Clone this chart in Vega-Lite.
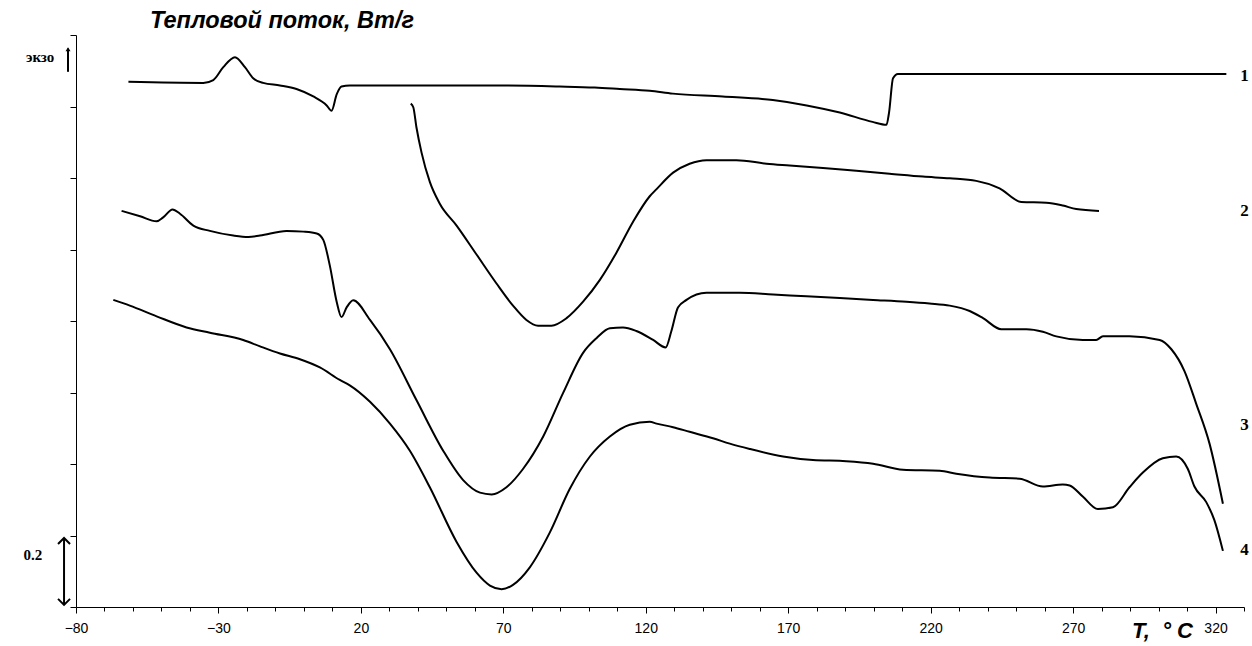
{
  "$schema": "https://vega.github.io/schema/vega-lite/v6.json",
  "width": 1168,
  "height": 572,
  "autosize": {"type": "none"},
  "padding": {"left": 76, "top": 35, "right": 8, "bottom": 39},
  "background": "white",
  "config": {"view": {"stroke": null}, "axis": {"labelOverlap": false}},
  "title": {"text": "Тепловой поток, Вт/г", "anchor": "start", "frame": "group", "dx": 74, "offset": 2, "font": "Liberation Sans", "fontSize": 23.5, "fontStyle": "italic", "fontWeight": "bold", "color": "#000"},
  "datasets": {
    "curves": [
      {"curve":"1","T":-61.6,"v":1.469},{"curve":"1","T":-35.3,"v":1.466},{"curve":"1","T":-31.8,"v":1.474},{"curve":"1","T":-28.3,"v":1.510},{"curve":"1","T":-24.2,"v":1.538},{"curve":"1","T":-20.7,"v":1.510},{"curve":"1","T":-17.8,"v":1.479},{"curve":"1","T":-14.3,"v":1.466},{"curve":"1","T":-8.4,"v":1.459},{"curve":"1","T":-2.6,"v":1.449},{"curve":"1","T":3.3,"v":1.428},{"curve":"1","T":8.0,"v":1.403},{"curve":"1","T":9.7,"v":1.388},{"curve":"1","T":11.5,"v":1.434},{"curve":"1","T":13.2,"v":1.456},{"curve":"1","T":16.1,"v":1.459},{"curve":"1","T":68.8,"v":1.459},{"curve":"1","T":89.8,"v":1.456},{"curve":"1","T":102.1,"v":1.453},{"curve":"1","T":110.9,"v":1.449},{"curve":"1","T":121.4,"v":1.444},{"curve":"1","T":129.5,"v":1.436},{"curve":"1","T":147,"v":1.428},{"curve":"1","T":164.6,"v":1.418},{"curve":"1","T":176.5,"v":1.403},{"curve":"1","T":188.1,"v":1.383},{"curve":"1","T":199.6,"v":1.357},{"curve":"1","T":204.5,"v":1.349},{"curve":"1","T":205.4,"v":1.383},{"curve":"1","T":206.8,"v":1.479},{"curve":"1","T":208.5,"v":1.491},{"curve":"1","T":323.8,"v":1.491},
      {"curve":"2","T":37.5,"v":1.408},{"curve":"2","T":38.4,"v":1.398},{"curve":"2","T":39.5,"v":1.342},{"curve":"2","T":41.3,"v":1.271},{"curve":"2","T":44.2,"v":1.189},{"curve":"2","T":47.7,"v":1.128},{"curve":"2","T":53.6,"v":1.067},{"curve":"2","T":60.6,"v":0.986},{"curve":"2","T":67.6,"v":0.905},{"curve":"2","T":73.4,"v":0.843},{"curve":"2","T":78.1,"v":0.803},{"curve":"2","T":82.2,"v":0.787},{"curve":"2","T":86.9,"v":0.787},{"curve":"2","T":92.2,"v":0.808},{"curve":"2","T":98.0,"v":0.854},{"curve":"2","T":103.9,"v":0.915},{"curve":"2","T":109.7,"v":0.991},{"curve":"2","T":115.5,"v":1.077},{"curve":"2","T":121.4,"v":1.149},{"curve":"2","T":123.8,"v":1.169},{"curve":"2","T":129.6,"v":1.215},{"curve":"2","T":135.4,"v":1.240},{"curve":"2","T":141.3,"v":1.250},{"curve":"2","T":151.8,"v":1.250},{"curve":"2","T":162.4,"v":1.240},{"curve":"2","T":170.5,"v":1.235},{"curve":"2","T":182.2,"v":1.228},{"curve":"2","T":193.9,"v":1.220},{"curve":"2","T":205.6,"v":1.212},{"curve":"2","T":217.3,"v":1.204},{"curve":"2","T":226.7,"v":1.199},{"curve":"2","T":236,"v":1.192},{"curve":"2","T":244.2,"v":1.171},{"curve":"2","T":251.8,"v":1.133},{"curve":"2","T":260.6,"v":1.131},{"curve":"2","T":266.4,"v":1.123},{"curve":"2","T":271.1,"v":1.113},{"curve":"2","T":279.1,"v":1.108},
      {"curve":"3","T":-64.0,"v":1.108},{"curve":"3","T":-57.5,"v":1.093},{"curve":"3","T":-51.7,"v":1.079},{"curve":"3","T":-49.4,"v":1.090},{"curve":"3","T":-46.1,"v":1.112},{"curve":"3","T":-43.5,"v":1.100},{"curve":"3","T":-38.8,"v":1.067},{"curve":"3","T":-33.0,"v":1.052},{"curve":"3","T":-24.8,"v":1.039},{"curve":"3","T":-19.5,"v":1.035},{"curve":"3","T":-15.4,"v":1.039},{"curve":"3","T":-6.1,"v":1.052},{"curve":"3","T":-0.2,"v":1.050},{"curve":"3","T":4.5,"v":1.045},{"curve":"3","T":6.8,"v":1.027},{"curve":"3","T":9.1,"v":0.955},{"curve":"3","T":11.5,"v":0.854},{"curve":"3","T":13.2,"v":0.811},{"curve":"3","T":15.0,"v":0.838},{"curve":"3","T":17.3,"v":0.858},{"curve":"3","T":23.2,"v":0.803},{"curve":"3","T":30.2,"v":0.721},{"curve":"3","T":39.5,"v":0.579},{"curve":"3","T":48.9,"v":0.437},{"curve":"3","T":55.9,"v":0.355},{"curve":"3","T":61.8,"v":0.320},{"curve":"3","T":65.9,"v":0.315},{"curve":"3","T":71.1,"v":0.335},{"curve":"3","T":76.9,"v":0.386},{"curve":"3","T":84.0,"v":0.477},{"curve":"3","T":91.0,"v":0.599},{"curve":"3","T":98.0,"v":0.711},{"curve":"3","T":102.7,"v":0.752},{"curve":"3","T":107.4,"v":0.780},{"curve":"3","T":112.0,"v":0.782},{"curve":"3","T":116.7,"v":0.772},{"curve":"3","T":122.6,"v":0.747},{"curve":"3","T":127.0,"v":0.726},{"curve":"3","T":129.0,"v":0.772},{"curve":"3","T":131.3,"v":0.838},{"curve":"3","T":134.3,"v":0.859},{"curve":"3","T":141.3,"v":0.879},{"curve":"3","T":153.0,"v":0.879},{"curve":"3","T":164.7,"v":0.874},{"curve":"3","T":176.4,"v":0.869},{"curve":"3","T":188.1,"v":0.864},{"curve":"3","T":199.8,"v":0.859},{"curve":"3","T":211.5,"v":0.854},{"curve":"3","T":219.6,"v":0.849},{"curve":"3","T":226.7,"v":0.843},{"curve":"3","T":233.7,"v":0.828},{"curve":"3","T":238.4,"v":0.808},{"curve":"3","T":244.8,"v":0.777},{"curve":"3","T":253.6,"v":0.777},{"curve":"3","T":259.4,"v":0.770},{"curve":"3","T":264.1,"v":0.757},{"curve":"3","T":273.4,"v":0.747},{"curve":"3","T":278.1,"v":0.747},{"curve":"3","T":280.5,"v":0.757},{"curve":"3","T":289.8,"v":0.757},{"curve":"3","T":300.4,"v":0.747},{"curve":"3","T":304.5,"v":0.721},{"curve":"3","T":309.1,"v":0.660},{"curve":"3","T":313.2,"v":0.569},{"curve":"3","T":317.9,"v":0.457},{"curve":"3","T":322.6,"v":0.289},
      {"curve":"4","T":-66.9,"v":0.859},{"curve":"4","T":-61.1,"v":0.843},{"curve":"4","T":-51.7,"v":0.813},{"curve":"4","T":-41.2,"v":0.782},{"curve":"4","T":-33.0,"v":0.767},{"curve":"4","T":-21.3,"v":0.747},{"curve":"4","T":-15.4,"v":0.729},{"curve":"4","T":-8.4,"v":0.709},{"curve":"4","T":-1.4,"v":0.693},{"curve":"4","T":5.6,"v":0.670},{"curve":"4","T":12.6,"v":0.635},{"curve":"4","T":16.1,"v":0.620},{"curve":"4","T":23.2,"v":0.574},{"curve":"4","T":30.2,"v":0.513},{"curve":"4","T":37.2,"v":0.437},{"curve":"4","T":44.2,"v":0.335},{"curve":"4","T":53.6,"v":0.182},{"curve":"4","T":60.6,"v":0.096},{"curve":"4","T":65.3,"v":0.060},{"curve":"4","T":69.4,"v":0.050},{"curve":"4","T":73.4,"v":0.062},{"curve":"4","T":79.3,"v":0.111},{"curve":"4","T":86.3,"v":0.208},{"curve":"4","T":93.3,"v":0.330},{"curve":"4","T":100.4,"v":0.421},{"curve":"4","T":107.4,"v":0.477},{"curve":"4","T":114.4,"v":0.510},{"curve":"4","T":121.4,"v":0.518},{"curve":"4","T":123.8,"v":0.513},{"curve":"4","T":129.6,"v":0.503},{"curve":"4","T":135.4,"v":0.490},{"curve":"4","T":143.6,"v":0.472},{"curve":"4","T":149.5,"v":0.457},{"curve":"4","T":156.5,"v":0.442},{"curve":"4","T":168.2,"v":0.421},{"curve":"4","T":178.7,"v":0.411},{"curve":"4","T":190.4,"v":0.408},{"curve":"4","T":199.8,"v":0.401},{"curve":"4","T":210.3,"v":0.384},{"curve":"4","T":223.2,"v":0.381},{"curve":"4","T":229.0,"v":0.373},{"curve":"4","T":240.7,"v":0.362},{"curve":"4","T":251.2,"v":0.359},{"curve":"4","T":259.4,"v":0.337},{"curve":"4","T":266.4,"v":0.343},{"curve":"4","T":268.8,"v":0.340},{"curve":"4","T":273.4,"v":0.309},{"curve":"4","T":278.7,"v":0.274},{"curve":"4","T":284.0,"v":0.279},{"curve":"4","T":289.8,"v":0.335},{"curve":"4","T":294.5,"v":0.376},{"curve":"4","T":301.5,"v":0.416},{"curve":"4","T":306.2,"v":0.421},{"curve":"4","T":310.3,"v":0.386},{"curve":"4","T":312.6,"v":0.337},{"curve":"4","T":316.7,"v":0.294},{"curve":"4","T":319.6,"v":0.243},{"curve":"4","T":322.6,"v":0.157}
    ],
    "curveLabels": [
      {"label":"1","T":330.2,"v":1.485},{"label":"2","T":330.2,"v":1.108},{"label":"3","T":330.2,"v":0.509},{"label":"4","T":330.2,"v":0.16}
    ],
    "sideLabels": [
      {"label":"экзо","T":-92.6,"v":1.538},{"label":"0.2","T":-95.1,"v":0.145}
    ],
    "arrows": [
      {"arrow":"exo","T":-82.8,"v":1.497},{"arrow":"exo","T":-82.8,"v":1.562},
      {"arrow":"scale","T":-84.2,"v":0.006},{"arrow":"scale","T":-84.2,"v":0.193}
    ],
    "headsUp": [{"T":-84.2,"v":0.193}],
    "headsDown": [{"T":-84.2,"v":0.006}],
    "headsExo": [{"T":-82.8,"v":1.566}]
  },
  "encoding": {
    "x": {"field": "T", "type": "quantitative",
      "scale": {"domain": [-80, 330], "nice": false, "zero": false},
      "axis": {
        "values": [-80,-70,-60,-50,-40,-30,-20,-10,0,10,20,30,40,50,60,70,80,90,100,110,120,130,140,150,160,170,180,190,200,210,220,230,240,250,260,270,280,290,300,310,320,330],
        "labelExpr": "(datum.value + 80) % 50 == 0 ? datum.label : ''",
        "tickSize": {"condition": {"test": "(datum.value + 80) % 50 == 0", "value": 6}, "value": 4},
        "format": "d",
        "labelFont": "Liberation Sans", "labelFontSize": 14, "labelColor": "#000",
        "labelPadding": 8, "labelFlush": false, "labelOverlap": false, "labelBound": false,
        "domainColor": "#000", "tickColor": "#000", "grid": false,
        "title": "T,\u00a0\u00a0°\u00a0C", "titleFont": "Liberation Sans", "titleFontSize": 22,
        "titleFontStyle": "italic", "titleFontWeight": "bold", "titleColor": "#000",
        "titleX": 1086, "titleY": 30, "titleAlign": "center", "titleBaseline": "alphabetic"
      }
    },
    "y": {"field": "v", "type": "quantitative",
      "scale": {"domain": [0, 1.6], "nice": false, "zero": false},
      "axis": {
        "values": [0, 0.2, 0.4, 0.6, 0.8, 1, 1.2, 1.4, 1.6],
        "labels": false, "tickSize": 6, "tickColor": "#000", "domainColor": "#000",
        "grid": false, "title": null
      }
    }
  },
  "layer": [
    {
      "data": {"name": "curves"},
      "mark": {"type": "line", "color": "#000", "strokeWidth": 2, "interpolate": "monotone"},
      "encoding": {"detail": {"field": "curve", "type": "nominal"}}
    },
    {
      "data": {"name": "curveLabels"},
      "mark": {"type": "text", "font": "Liberation Serif", "fontWeight": "bold", "fontSize": 17, "color": "#000", "align": "center", "baseline": "middle"},
      "encoding": {"text": {"field": "label"}}
    },
    {
      "data": {"name": "sideLabels"},
      "mark": {"type": "text", "font": "Liberation Serif", "fontWeight": "bold", "fontSize": 15, "color": "#000", "align": "center", "baseline": "middle"},
      "encoding": {"text": {"field": "label"}}
    },
    {
      "data": {"name": "arrows"},
      "mark": {"type": "line", "color": "#000", "strokeWidth": 2},
      "encoding": {"detail": {"field": "arrow", "type": "nominal"}}
    },
    {
      "data": {"name": "headsUp"},
      "mark": {"type": "point", "shape": "M-1,1L0,0L1,1", "filled": false, "stroke": "#000", "strokeWidth": 2, "size": 144, "opacity": 1},
      "encoding": {}
    },
    {
      "data": {"name": "headsDown"},
      "mark": {"type": "point", "shape": "M-1,-1L0,0L1,-1", "filled": false, "stroke": "#000", "strokeWidth": 2, "size": 144, "opacity": 1},
      "encoding": {}
    },
    {
      "data": {"name": "headsExo"},
      "mark": {"type": "point", "shape": "M-1,1.6L0,0L1,1.6Z", "filled": true, "color": "#000", "size": 25, "opacity": 1},
      "encoding": {}
    }
  ]
}
